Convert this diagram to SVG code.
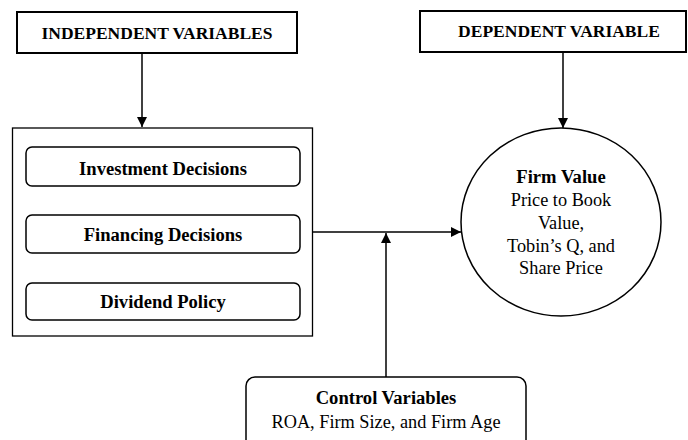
<svg xmlns="http://www.w3.org/2000/svg" width="688" height="440" viewBox="0 0 688 440">
<style>
text{font-family:"Liberation Serif","Times New Roman",serif;fill:#000;text-anchor:middle}
.h{font-weight:bold;font-size:17.5px}
.b{font-weight:bold;font-size:18.6px}
.r{font-size:18.3px}
.hdr{fill:#fff;stroke:#000;stroke-width:2}
.rr{fill:#fff;stroke:#000;stroke-width:1.5}
.ln{fill:none;stroke:#000;stroke-width:1.5}
</style>
<defs>
<marker id="ah" viewBox="0 0 10 10" refX="10" refY="5" markerWidth="10" markerHeight="10" markerUnits="userSpaceOnUse" orient="auto">
<path d="M0,0 L10,5 L0,10 z" fill="#000"/>
</marker>
</defs>
<rect width="688" height="440" fill="#fff"/>
<g id="independent">
<rect class="hdr" x="17" y="12" width="280" height="41"/>
<text class="h" x="157" y="39">INDEPENDENT VARIABLES</text>
</g>
<g id="dependent">
<rect class="hdr" x="420" y="11" width="266" height="41"/>
<text class="h" x="559" y="37">DEPENDENT VARIABLE</text>
</g>
<g id="group">
<rect x="12.5" y="128" width="300" height="208" fill="#fff" stroke="#000" stroke-width="1.3"/>
</g>
<g id="investment">
<rect class="rr" x="26" y="147" width="274" height="39" rx="6"/>
<text class="b" x="163" y="175">Investment Decisions</text>
</g>
<g id="financing">
<rect class="rr" x="26" y="215" width="274" height="38" rx="6"/>
<text class="b" x="163" y="241">Financing Decisions</text>
</g>
<g id="dividend">
<rect class="rr" x="26" y="283" width="274" height="37" rx="6"/>
<text class="b" x="163" y="308">Dividend Policy</text>
</g>
<g id="firmvalue">
<ellipse class="rr" cx="561" cy="222" rx="100" ry="94"/>
<text class="b" x="561" y="183">Firm Value</text>
<text class="r" x="561" y="206">Price to Book</text>
<text class="r" x="561" y="229">Value,</text>
<text class="r" x="561" y="252">Tobin’s Q, and</text>
<text class="r" x="561" y="274">Share Price</text>
</g>
<g id="control">
<rect class="rr" x="246" y="377" width="280" height="80" rx="9"/>
<text class="b" x="386" y="404">Control Variables</text>
<text class="r" x="386" y="428">ROA, Firm Size, and Firm Age</text>
</g>
<g id="connectors">
<line class="ln" x1="142" y1="53" x2="142" y2="127" marker-end="url(#ah)"/>
<line class="ln" x1="563" y1="52" x2="563" y2="128" marker-end="url(#ah)"/>
<line class="ln" x1="313" y1="232" x2="461" y2="232" marker-end="url(#ah)"/>
<line class="ln" x1="386" y1="377" x2="386" y2="233" marker-end="url(#ah)"/>
</g>
</svg>
